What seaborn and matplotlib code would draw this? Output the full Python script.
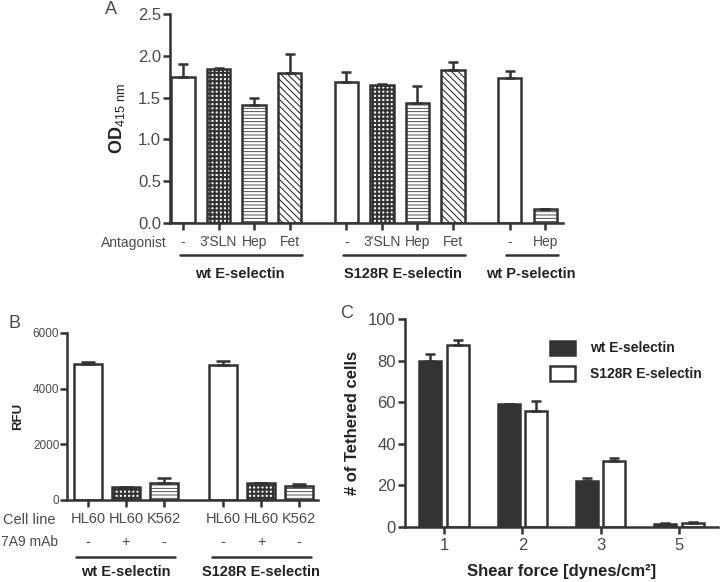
import numpy as np
import pandas as pd
import matplotlib
matplotlib.use("Agg")
import matplotlib.pyplot as plt
import matplotlib.transforms as mtransforms
from matplotlib.patches import Patch
import seaborn as sns

sns.set_theme(style="ticks")
plt.rcParams["font.family"] = ["Liberation Sans", "DejaVu Sans"]
plt.rcParams["mathtext.fontset"] = "custom"
plt.rcParams["mathtext.rm"] = "Liberation Sans"
plt.rcParams["mathtext.bf"] = "Liberation Sans:bold"
plt.rcParams["hatch.linewidth"] = 0.9

DARK = "#333333"
GRAY = "#4a4a4a"
LW = 1.8

# ---------------- data ----------------
# Panel A
a_groups = ["wt E-selectin", "S128R E-selectin", "wt P-selectin"]
a_group_sizes = [4, 4, 2]
a_antagonist = ["-", "3'SLN", "Hep", "Fet", "-", "3'SLN", "Hep", "Fet", "-", "Hep"]
a_od = [1.74, 1.84, 1.41, 1.79, 1.69, 1.65, 1.43, 1.83, 1.73, 0.17]
a_sem = [0.16, 0.01, 0.09, 0.23, 0.11, 0.01, 0.21, 0.10, 0.09, 0.0]

# Panel B
b_groups = ["wt E-selectin", "S128R E-selectin"]
b_cell_line = ["HL60", "HL60", "K562", "HL60", "HL60", "K562"]
b_mab = ["-", "+", "-", "-", "+", "-"]
b_rfu = [4900, 450, 600, 4830, 600, 500]
b_sem = [40, 15, 180, 150, 20, 80]

# Panel C
c_shear = ["1", "2", "3", "5"]
c_series = ["wt E-selectin", "S128R E-selectin"]
c_wt = [80.0, 59.0, 22.0, 1.5]
c_wt_sem = [3.5, 0.0, 1.7, 0.4]
c_s128r = [87.5, 56.0, 32.0, 1.9]
c_s128r_sem = [2.3, 4.7, 1.0, 0.6]

# ---------------- helpers ----------------
FILLS = {"3'SLN": ("++++", 1.5, DARK), "Hep": ("-----", 0.6, "#777777"),
         "Fet": ("\\" * 5, 0.8, DARK)}


def apply_fill(p, label):
    p.set_facecolor("white")
    p.set_edgecolor(DARK)
    if label in FILLS:
        h, lw, col = FILLS[label]
        p.set_hatch(h)
        if hasattr(p, "set_hatch_linewidth"):
            p.set_hatch_linewidth(lw)
        if hasattr(p, "set_hatchcolor"):
            p.set_hatchcolor(col)


def group_positions(sizes, gap):
    pos, start = [], 0.0
    for s in sizes:
        pos.extend([start + i for i in range(s)])
        start += s - 1 + gap
    return pos


def style_axis(ax, fs):
    sns.despine(ax=ax)
    for sp in ["left", "bottom"]:
        ax.spines[sp].set_color(DARK)
        ax.spines[sp].set_linewidth(LW)
    ax.tick_params(axis="both", colors=DARK, width=LW, length=5, labelsize=fs,
                   labelcolor=GRAY, pad=1.5)


fig = plt.figure(figsize=(7.2, 5.82), dpi=100)

# ================= Panel A =================
axA = fig.add_axes([0.236, 0.617, 0.546, 0.359])
a_pos = group_positions(a_group_sizes, 1.6)
dfA = pd.DataFrame({"pos": a_pos, "od": a_od})
sns.barplot(data=dfA, x="pos", y="od", native_scale=True, width=0.66,
            color="white", edgecolor=DARK, linewidth=LW, errorbar=None,
            saturation=1, ax=axA)
for p, lab in zip(sorted(axA.patches, key=lambda r: r.get_x()), a_antagonist):
    apply_fill(p, lab)
axA.errorbar(a_pos, a_od, yerr=[np.zeros(len(a_sem)), a_sem], fmt="none",
             ecolor=DARK, elinewidth=LW, capsize=3.8, capthick=LW, zorder=5)
axA.set_ylim(0, 2.5)
axA.set_yticks(np.arange(0, 2.51, 0.5))
axA.set_yticklabels([f"{v:.1f}" for v in np.arange(0, 2.51, 0.5)])
axA.set_xlim(-0.37, 10.7)
axA.set_xticks(a_pos)
axA.set_xticklabels(a_antagonist)
style_axis(axA, 12)
axA.tick_params(axis="x", labelsize=10, pad=4)
axA.set_xlabel("")
axA.set_ylabel(r"$\mathbf{OD}_{\mathrm{415\ nm}}$", fontsize=13, color="#222222", labelpad=8)
trA = mtransforms.blended_transform_factory(axA.transData, axA.transAxes)
axA.text(-0.008, -0.096, "Antagonist", transform=axA.transAxes, ha="right",
         va="center", fontsize=10, color=GRAY)
i0 = 0
for g, s in zip(a_groups, a_group_sizes):
    xs = a_pos[i0:i0 + s]
    axA.plot([xs[0] - 0.1, xs[-1] + 0.35], [-0.153, -0.153], transform=trA,
             color=DARK, lw=LW, clip_on=False)
    axA.text((xs[0] + xs[-1]) / 2 + 0.1, -0.244, g, transform=trA, ha="center",
             va="center", fontsize=10.5, fontweight="bold", color="#222222")
    i0 += s
fig.text(111 / 720, 1 - 9 / 582, "A", ha="center", va="center", fontsize=13, color=GRAY)

# ================= Panel B =================
axB = fig.add_axes([0.093, 0.141, 0.349, 0.287])
b_pos = group_positions([3, 3], 1.55)
dfB = pd.DataFrame({"pos": b_pos, "rfu": b_rfu})
sns.barplot(data=dfB, x="pos", y="rfu", native_scale=True, width=0.74,
            color="white", edgecolor=DARK, linewidth=LW, errorbar=None,
            saturation=1, ax=axB)
b_style = ["", "3'SLN", "Hep"] * 2
for p, st in zip(sorted(axB.patches, key=lambda r: r.get_x()), b_style):
    apply_fill(p, st)
axB.errorbar(b_pos, b_rfu, yerr=[np.zeros(len(b_sem)), b_sem], fmt="none",
             ecolor=DARK, elinewidth=LW, capsize=5.2, capthick=LW, zorder=5)
axB.set_ylim(0, 6000)
axB.set_yticks([0, 2000, 4000, 6000])
axB.set_xlim(-0.55, 6.05)
axB.set_xticks(b_pos)
axB.set_xticklabels(b_cell_line)
style_axis(axB, 8.5)
axB.tick_params(axis="y", pad=0.5)
axB.tick_params(axis="x", labelsize=10.5, pad=4)
axB.set_xlabel("")
axB.set_ylabel("RFU", fontsize=9.5, fontweight="bold", color="#222222", labelpad=6)
trB = mtransforms.blended_transform_factory(axB.transData, axB.transAxes)
axB.text(-0.044, -0.12, "Cell line", transform=axB.transAxes, ha="right",
         va="center", fontsize=10.5, color=GRAY)
fig.text(1 / 720, 1 - 542 / 582, "7A9 mAb", ha="left", va="center",
         fontsize=10, color=GRAY)
for x, m in zip(b_pos, b_mab):
    axB.text(x, -0.251, m, transform=trB, ha="center", va="center",
             fontsize=10.5, color=GRAY)
for gi, g in enumerate(b_groups):
    xs = b_pos[gi * 3:(gi + 1) * 3]
    axB.plot([xs[0] - 0.3, xs[-1] + 0.3], [-0.341, -0.341], transform=trB,
             color=DARK, lw=LW, clip_on=False)
    axB.text((xs[0] + xs[-1]) / 2, -0.431, g, transform=trB, ha="center",
             va="center", fontsize=10.5, fontweight="bold", color="#222222")
fig.text(14 / 720, 1 - 323 / 582, "B", ha="center", va="center", fontsize=13, color=GRAY)

# ================= Panel C =================
axC = fig.add_axes([0.5625, 0.0945, 0.435, 0.357])
dfC = pd.DataFrame({
    "shear": c_shear * 2,
    "cells": c_wt + c_s128r,
    "series": [c_series[0]] * len(c_shear) + [c_series[1]] * len(c_shear),
})
sns.barplot(data=dfC, x="shear", y="cells", hue="series", order=c_shear,
            hue_order=c_series, palette=[DARK, "white"], edgecolor=DARK,
            linewidth=LW, width=0.7, gap=0.2, errorbar=None, saturation=1,
            legend=False, ax=axC)
bars = [p for p in axC.patches]
n = len(c_shear)
for k, (vals, errs) in enumerate([(c_wt, c_wt_sem), (c_s128r, c_s128r_sem)]):
    xs = [b.get_x() + b.get_width() / 2 for b in bars[k * n:(k + 1) * n]]
    axC.errorbar(xs, vals, yerr=[np.zeros(n), errs], fmt="none", ecolor=DARK,
                 elinewidth=LW, capsize=3.8, capthick=LW, zorder=5)
axC.set_ylim(0, 100)
axC.set_yticks([0, 20, 40, 60, 80, 100])
axC.set_xlim(-0.5, 3.5)
style_axis(axC, 12)
axC.tick_params(axis="x", pad=3)
axC.set_xlabel("Shear force [dynes/cm²]", fontsize=12, fontweight="bold",
               color="#222222", labelpad=8)
axC.set_ylabel("# of Tethered cells", fontsize=12, fontweight="bold",
               color="#222222", labelpad=6)
handles = [Patch(facecolor=DARK, edgecolor=DARK, linewidth=LW, label=c_series[0]),
           Patch(facecolor="white", edgecolor=DARK, linewidth=LW, label=c_series[1])]
leg = fig.legend(handles=handles, loc="upper left",
                 bbox_to_anchor=(537 / 720, 1 - 328 / 582), frameon=False,
                 prop={"weight": "bold", "size": 10}, handlelength=1.8,
                 handleheight=1.2, labelspacing=0.8, handletextpad=1.1)
for t in leg.get_texts():
    t.set_color("#222222")
fig.text(347 / 720, 1 - 313 / 582, "C", ha="center", va="center", fontsize=13, color=GRAY)

fig.savefig("out.png", dpi=100)
